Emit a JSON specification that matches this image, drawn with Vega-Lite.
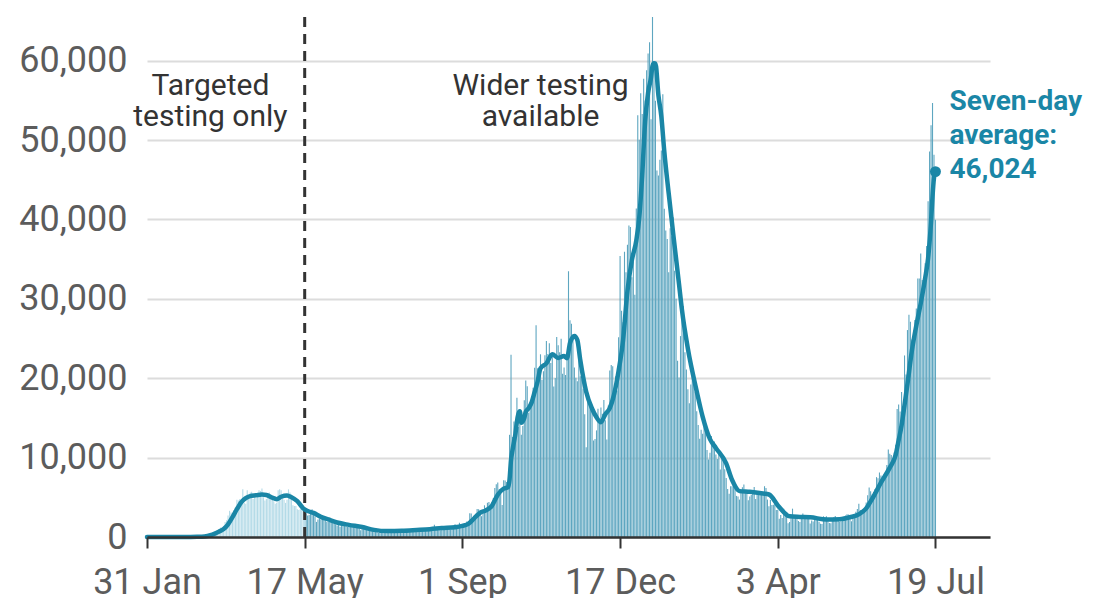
{
"$schema":"https://vega.github.io/schema/vega-lite/v6.json",
"width":843,"height":520,
"autosize":{"type":"none"},
"padding":{"left":147,"top":17,"right":116,"bottom":61},
"background":"white",
"config":{"view":{"stroke":null},"font":"Roboto"},
"datasets":{
"early":[
{"d":"2020-03-01","c":12},{"d":"2020-03-02","c":10},{"d":"2020-03-03","c":15},{"d":"2020-03-04","c":30},{"d":"2020-03-05","c":40},{"d":"2020-03-06","c":50},{"d":"2020-03-07","c":55},{"d":"2020-03-08","c":70},{"d":"2020-03-09","c":80},{"d":"2020-03-10","c":100},{"d":"2020-03-11","c":140},{"d":"2020-03-12","c":200},{"d":"2020-03-13","c":300},{"d":"2020-03-14","c":400},{"d":"2020-03-15","c":420},{"d":"2020-03-16","c":450},{"d":"2020-03-17","c":600},{"d":"2020-03-18","c":750},{"d":"2020-03-19","c":850},{"d":"2020-03-20","c":950},{"d":"2020-03-21","c":1200},{"d":"2020-03-22","c":1000},{"d":"2020-03-23","c":1300},{"d":"2020-03-24","c":1900},{"d":"2020-03-25","c":2100},{"d":"2020-03-26","c":2700},{"d":"2020-03-27","c":3300},{"d":"2020-03-28","c":3100},{"d":"2020-03-29","c":3000},{"d":"2020-03-30","c":3400},{"d":"2020-03-31","c":3800},
{"d":"2020-04-01","c":4700},{"d":"2020-04-02","c":4600},{"d":"2020-04-03","c":4800},{"d":"2020-04-04","c":4300},{"d":"2020-04-05","c":6000},{"d":"2020-04-06","c":4300},{"d":"2020-04-07","c":4200},{"d":"2020-04-08","c":5900},{"d":"2020-04-09","c":4800},{"d":"2020-04-10","c":5600},{"d":"2020-04-11","c":5700},{"d":"2020-04-12","c":4800},{"d":"2020-04-13","c":5300},{"d":"2020-04-14","c":4900},{"d":"2020-04-15","c":5000},{"d":"2020-04-16","c":5900},{"d":"2020-04-17","c":5800},{"d":"2020-04-18","c":6100},{"d":"2020-04-19","c":5000},{"d":"2020-04-20","c":4600},{"d":"2020-04-21","c":4800},{"d":"2020-04-22","c":4900},{"d":"2020-04-23","c":5600},{"d":"2020-04-24","c":5200},{"d":"2020-04-25","c":4700},{"d":"2020-04-26","c":4500},{"d":"2020-04-27","c":4200},{"d":"2020-04-28","c":4300},{"d":"2020-04-29","c":5900},{"d":"2020-04-30","c":6000},
{"d":"2020-05-01","c":5900},{"d":"2020-05-02","c":5100},{"d":"2020-05-03","c":4700},{"d":"2020-05-04","c":4300},{"d":"2020-05-05","c":4700},{"d":"2020-05-06","c":6000},{"d":"2020-05-07","c":5600},{"d":"2020-05-08","c":4700},{"d":"2020-05-09","c":4000},{"d":"2020-05-10","c":3900},{"d":"2020-05-11","c":3900},{"d":"2020-05-12","c":3500},{"d":"2020-05-13","c":3400},{"d":"2020-05-14","c":3500},{"d":"2020-05-15","c":3600},{"d":"2020-05-16","c":3500},{"d":"2020-05-17","c":3200}
],
"later":[
{"d":"2020-05-18","c":3000},{"d":"2020-05-19","c":2700},{"d":"2020-05-20","c":2800},{"d":"2020-05-21","c":2900},{"d":"2020-05-22","c":3500},{"d":"2020-05-23","c":3100},{"d":"2020-05-24","c":2600},{"d":"2020-05-25","c":1900},{"d":"2020-05-26","c":2200},{"d":"2020-05-27","c":2300},{"d":"2020-05-28","c":2200},{"d":"2020-05-29","c":2400},{"d":"2020-05-30","c":2600},{"d":"2020-05-31","c":2100},
{"d":"2020-06-01","c":1900},{"d":"2020-06-02","c":1950},{"d":"2020-06-03","c":2100},{"d":"2020-06-04","c":2000},{"d":"2020-06-05","c":1900},{"d":"2020-06-06","c":1800},{"d":"2020-06-07","c":1600},{"d":"2020-06-08","c":1450},{"d":"2020-06-09","c":1600},{"d":"2020-06-10","c":1300},{"d":"2020-06-11","c":1500},{"d":"2020-06-12","c":1750},{"d":"2020-06-13","c":1650},{"d":"2020-06-14","c":1700},{"d":"2020-06-15","c":1300},{"d":"2020-06-16","c":1500},{"d":"2020-06-17","c":1350},{"d":"2020-06-18","c":1450},{"d":"2020-06-19","c":1550},{"d":"2020-06-20","c":1500},{"d":"2020-06-21","c":1400},{"d":"2020-06-22","c":1150},{"d":"2020-06-23","c":1050},{"d":"2020-06-24","c":850},{"d":"2020-06-25","c":1300},{"d":"2020-06-26","c":1500},{"d":"2020-06-27","c":1050},{"d":"2020-06-28","c":1050},{"d":"2020-06-29","c":950},{"d":"2020-06-30","c":850},
{"d":"2020-07-01","c":950},{"d":"2020-07-02","c":750},{"d":"2020-07-03","c":700},{"d":"2020-07-04","c":780},{"d":"2020-07-05","c":680},{"d":"2020-07-06","c":500},{"d":"2020-07-07","c":720},{"d":"2020-07-08","c":780},{"d":"2020-07-09","c":660},{"d":"2020-07-10","c":950},{"d":"2020-07-11","c":800},{"d":"2020-07-12","c":800},{"d":"2020-07-13","c":680},{"d":"2020-07-14","c":740},{"d":"2020-07-15","c":690},{"d":"2020-07-16","c":790},{"d":"2020-07-17","c":830},{"d":"2020-07-18","c":950},{"d":"2020-07-19","c":860},{"d":"2020-07-20","c":720},{"d":"2020-07-21","c":590},{"d":"2020-07-22","c":700},{"d":"2020-07-23","c":900},{"d":"2020-07-24","c":900},{"d":"2020-07-25","c":880},{"d":"2020-07-26","c":880},{"d":"2020-07-27","c":820},{"d":"2020-07-28","c":720},{"d":"2020-07-29","c":900},{"d":"2020-07-30","c":980},{"d":"2020-07-31","c":1010},
{"d":"2020-08-01","c":880},{"d":"2020-08-02","c":880},{"d":"2020-08-03","c":1060},{"d":"2020-08-04","c":800},{"d":"2020-08-05","c":1020},{"d":"2020-08-06","c":1080},{"d":"2020-08-07","c":1000},{"d":"2020-08-08","c":890},{"d":"2020-08-09","c":1180},{"d":"2020-08-10","c":950},{"d":"2020-08-11","c":1270},{"d":"2020-08-12","c":1130},{"d":"2020-08-13","c":1540},{"d":"2020-08-14","c":1130},{"d":"2020-08-15","c":1190},{"d":"2020-08-16","c":850},{"d":"2020-08-17","c":840},{"d":"2020-08-18","c":1200},{"d":"2020-08-19","c":930},{"d":"2020-08-20","c":1280},{"d":"2020-08-21","c":1140},{"d":"2020-08-22","c":1370},{"d":"2020-08-23","c":1150},{"d":"2020-08-24","c":960},{"d":"2020-08-25","c":1270},{"d":"2020-08-26","c":1150},{"d":"2020-08-27","c":1600},{"d":"2020-08-28","c":1360},{"d":"2020-08-29","c":1200},{"d":"2020-08-30","c":1780},{"d":"2020-08-31","c":1470},
{"d":"2020-09-01","c":1295},{"d":"2020-09-02","c":1508},{"d":"2020-09-03","c":1735},{"d":"2020-09-04","c":1940},{"d":"2020-09-05","c":1813},{"d":"2020-09-06","c":2988},{"d":"2020-09-07","c":2948},{"d":"2020-09-08","c":2460},{"d":"2020-09-09","c":2659},{"d":"2020-09-10","c":2919},{"d":"2020-09-11","c":3539},{"d":"2020-09-12","c":3497},{"d":"2020-09-13","c":3330},{"d":"2020-09-14","c":2621},{"d":"2020-09-15","c":3105},{"d":"2020-09-16","c":3991},{"d":"2020-09-17","c":3395},{"d":"2020-09-18","c":4322},{"d":"2020-09-19","c":4422},{"d":"2020-09-20","c":3899},{"d":"2020-09-21","c":4368},{"d":"2020-09-22","c":4926},{"d":"2020-09-23","c":6178},{"d":"2020-09-24","c":6634},{"d":"2020-09-25","c":6874},{"d":"2020-09-26","c":6042},{"d":"2020-09-27","c":5693},{"d":"2020-09-28","c":4044},{"d":"2020-09-29","c":7143},{"d":"2020-09-30","c":7108},
{"d":"2020-10-01","c":6914},{"d":"2020-10-02","c":6968},{"d":"2020-10-03","c":12872},{"d":"2020-10-04","c":22961},{"d":"2020-10-05","c":12594},{"d":"2020-10-06","c":14542},{"d":"2020-10-07","c":14162},{"d":"2020-10-08","c":17540},{"d":"2020-10-09","c":13864},{"d":"2020-10-10","c":15166},{"d":"2020-10-11","c":12872},{"d":"2020-10-12","c":13972},{"d":"2020-10-13","c":17234},{"d":"2020-10-14","c":19724},{"d":"2020-10-15","c":18980},{"d":"2020-10-16","c":15650},{"d":"2020-10-17","c":16171},{"d":"2020-10-18","c":16982},{"d":"2020-10-19","c":18804},{"d":"2020-10-20","c":21331},{"d":"2020-10-21","c":26688},{"d":"2020-10-22","c":21242},{"d":"2020-10-23","c":20530},{"d":"2020-10-24","c":23012},{"d":"2020-10-25","c":19790},{"d":"2020-10-26","c":20890},{"d":"2020-10-27","c":22885},{"d":"2020-10-28","c":24701},{"d":"2020-10-29","c":23065},{"d":"2020-10-30","c":24405},{"d":"2020-10-31","c":21915},
{"d":"2020-11-01","c":23254},{"d":"2020-11-02","c":18950},{"d":"2020-11-03","c":20018},{"d":"2020-11-04","c":25177},{"d":"2020-11-05","c":24141},{"d":"2020-11-06","c":23287},{"d":"2020-11-07","c":24957},{"d":"2020-11-08","c":20572},{"d":"2020-11-09","c":21350},{"d":"2020-11-10","c":20412},{"d":"2020-11-11","c":22950},{"d":"2020-11-12","c":33470},{"d":"2020-11-13","c":27301},{"d":"2020-11-14","c":26860},{"d":"2020-11-15","c":24962},{"d":"2020-11-16","c":21363},{"d":"2020-11-17","c":20051},{"d":"2020-11-18","c":19609},{"d":"2020-11-19","c":22915},{"d":"2020-11-20","c":20252},{"d":"2020-11-21","c":19875},{"d":"2020-11-22","c":18662},{"d":"2020-11-23","c":15450},{"d":"2020-11-24","c":11299},{"d":"2020-11-25","c":18213},{"d":"2020-11-26","c":17555},{"d":"2020-11-27","c":16022},{"d":"2020-11-28","c":15871},{"d":"2020-11-29","c":12155},{"d":"2020-11-30","c":12330},
{"d":"2020-12-01","c":13430},{"d":"2020-12-02","c":16170},{"d":"2020-12-03","c":14879},{"d":"2020-12-04","c":16298},{"d":"2020-12-05","c":15539},{"d":"2020-12-06","c":17272},{"d":"2020-12-07","c":14718},{"d":"2020-12-08","c":12282},{"d":"2020-12-09","c":16578},{"d":"2020-12-10","c":20964},{"d":"2020-12-11","c":21672},{"d":"2020-12-12","c":21502},{"d":"2020-12-13","c":18447},{"d":"2020-12-14","c":20263},{"d":"2020-12-15","c":18450},{"d":"2020-12-16","c":25161},{"d":"2020-12-17","c":35383},{"d":"2020-12-18","c":28507},{"d":"2020-12-19","c":27052},{"d":"2020-12-20","c":35928},{"d":"2020-12-21","c":33364},{"d":"2020-12-22","c":36804},{"d":"2020-12-23","c":39237},{"d":"2020-12-24","c":39036},{"d":"2020-12-25","c":32725},{"d":"2020-12-26","c":34693},{"d":"2020-12-27","c":30501},{"d":"2020-12-28","c":41385},{"d":"2020-12-29","c":53135},{"d":"2020-12-30","c":50023},{"d":"2020-12-31","c":55892},
{"d":"2021-01-01","c":53285},{"d":"2021-01-02","c":57725},{"d":"2021-01-03","c":54990},{"d":"2021-01-04","c":58784},{"d":"2021-01-05","c":60916},{"d":"2021-01-06","c":62322},{"d":"2021-01-07","c":52618},{"d":"2021-01-08","c":68053},{"d":"2021-01-09","c":59937},{"d":"2021-01-10","c":54940},{"d":"2021-01-11","c":46169},{"d":"2021-01-12","c":45533},{"d":"2021-01-13","c":47525},{"d":"2021-01-14","c":48682},{"d":"2021-01-15","c":55761},{"d":"2021-01-16","c":41346},{"d":"2021-01-17","c":38598},{"d":"2021-01-18","c":37535},{"d":"2021-01-19","c":33355},{"d":"2021-01-20","c":38905},{"d":"2021-01-21","c":37892},{"d":"2021-01-22","c":40261},{"d":"2021-01-23","c":33552},{"d":"2021-01-24","c":30004},{"d":"2021-01-25","c":22195},{"d":"2021-01-26","c":20089},{"d":"2021-01-27","c":25308},{"d":"2021-01-28","c":28680},{"d":"2021-01-29","c":29079},{"d":"2021-01-30","c":23275},{"d":"2021-01-31","c":21088},
{"d":"2021-02-01","c":18607},{"d":"2021-02-02","c":16840},{"d":"2021-02-03","c":19202},{"d":"2021-02-04","c":20634},{"d":"2021-02-05","c":19114},{"d":"2021-02-06","c":18262},{"d":"2021-02-07","c":15845},{"d":"2021-02-08","c":14104},{"d":"2021-02-09","c":12364},{"d":"2021-02-10","c":13494},{"d":"2021-02-11","c":13013},{"d":"2021-02-12","c":15144},{"d":"2021-02-13","c":13308},{"d":"2021-02-14","c":10972},{"d":"2021-02-15","c":9765},{"d":"2021-02-16","c":10625},{"d":"2021-02-17","c":12718},{"d":"2021-02-18","c":12057},{"d":"2021-02-19","c":12027},{"d":"2021-02-20","c":10406},{"d":"2021-02-21","c":9834},{"d":"2021-02-22","c":10641},{"d":"2021-02-23","c":8489},{"d":"2021-02-24","c":9938},{"d":"2021-02-25","c":9985},{"d":"2021-02-26","c":8523},{"d":"2021-02-27","c":7434},{"d":"2021-02-28","c":6035},
{"d":"2021-03-01","c":5455},{"d":"2021-03-02","c":6391},{"d":"2021-03-03","c":6385},{"d":"2021-03-04","c":6573},{"d":"2021-03-05","c":6040},{"d":"2021-03-06","c":5177},{"d":"2021-03-07","c":5088},{"d":"2021-03-08","c":4712},{"d":"2021-03-09","c":5766},{"d":"2021-03-10","c":6278},{"d":"2021-03-11","c":6609},{"d":"2021-03-12","c":5926},{"d":"2021-03-13","c":5534},{"d":"2021-03-14","c":4618},{"d":"2021-03-15","c":5089},{"d":"2021-03-16","c":5294},{"d":"2021-03-17","c":5758},{"d":"2021-03-18","c":6303},{"d":"2021-03-19","c":4802},{"d":"2021-03-20","c":5587},{"d":"2021-03-21","c":5312},{"d":"2021-03-22","c":5342},{"d":"2021-03-23","c":5379},{"d":"2021-03-24","c":5605},{"d":"2021-03-25","c":6397},{"d":"2021-03-26","c":6187},{"d":"2021-03-27","c":4715},{"d":"2021-03-28","c":3862},{"d":"2021-03-29","c":4654},{"d":"2021-03-30","c":4040},{"d":"2021-03-31","c":4052},
{"d":"2021-04-01","c":4479},{"d":"2021-04-02","c":3402},{"d":"2021-04-03","c":3423},{"d":"2021-04-04","c":2297},{"d":"2021-04-05","c":2762},{"d":"2021-04-06","c":2379},{"d":"2021-04-07","c":3567},{"d":"2021-04-08","c":2763},{"d":"2021-04-09","c":3150},{"d":"2021-04-10","c":1730},{"d":"2021-04-11","c":1882},{"d":"2021-04-12","c":2472},{"d":"2021-04-13","c":3568},{"d":"2021-04-14","c":2491},{"d":"2021-04-15","c":2672},{"d":"2021-04-16","c":2596},{"d":"2021-04-17","c":2027},{"d":"2021-04-18","c":1882},{"d":"2021-04-19","c":2524},{"d":"2021-04-20","c":2963},{"d":"2021-04-21","c":2396},{"d":"2021-04-22","c":2729},{"d":"2021-04-23","c":2678},{"d":"2021-04-24","c":2381},{"d":"2021-04-25","c":1712},{"d":"2021-04-26","c":2064},{"d":"2021-04-27","c":1946},{"d":"2021-04-28","c":2166},{"d":"2021-04-29","c":2381},{"d":"2021-04-30","c":2445},
{"d":"2021-05-01","c":1907},{"d":"2021-05-02","c":1671},{"d":"2021-05-03","c":1649},{"d":"2021-05-04","c":2613},{"d":"2021-05-05","c":2490},{"d":"2021-05-06","c":2613},{"d":"2021-05-07","c":2047},{"d":"2021-05-08","c":1770},{"d":"2021-05-09","c":1742},{"d":"2021-05-10","c":2357},{"d":"2021-05-11","c":2474},{"d":"2021-05-12","c":2657},{"d":"2021-05-13","c":2284},{"d":"2021-05-14","c":2193},{"d":"2021-05-15","c":1926},{"d":"2021-05-16","c":1979},{"d":"2021-05-17","c":2412},{"d":"2021-05-18","c":2474},{"d":"2021-05-19","c":2696},{"d":"2021-05-20","c":2874},{"d":"2021-05-21","c":2829},{"d":"2021-05-22","c":2235},{"d":"2021-05-23","c":1979},{"d":"2021-05-24","c":2439},{"d":"2021-05-25","c":2493},{"d":"2021-05-26","c":3180},{"d":"2021-05-27","c":3542},{"d":"2021-05-28","c":4182},{"d":"2021-05-29","c":3398},{"d":"2021-05-30","c":3240},{"d":"2021-05-31","c":3383},
{"d":"2021-06-01","c":3165},{"d":"2021-06-02","c":4330},{"d":"2021-06-03","c":5274},{"d":"2021-06-04","c":6238},{"d":"2021-06-05","c":5765},{"d":"2021-06-06","c":5341},{"d":"2021-06-07","c":5683},{"d":"2021-06-08","c":6048},{"d":"2021-06-09","c":7540},{"d":"2021-06-10","c":7393},{"d":"2021-06-11","c":8125},{"d":"2021-06-12","c":7738},{"d":"2021-06-13","c":7490},{"d":"2021-06-14","c":7742},{"d":"2021-06-15","c":7673},{"d":"2021-06-16","c":9055},{"d":"2021-06-17","c":11007},{"d":"2021-06-18","c":10476},{"d":"2021-06-19","c":10321},{"d":"2021-06-20","c":9284},{"d":"2021-06-21","c":10633},{"d":"2021-06-22","c":11625},{"d":"2021-06-23","c":16135},{"d":"2021-06-24","c":16703},{"d":"2021-06-25","c":15810},{"d":"2021-06-26","c":18270},{"d":"2021-06-27","c":14876},{"d":"2021-06-28","c":22868},{"d":"2021-06-29","c":20479},{"d":"2021-06-30","c":26068},
{"d":"2021-07-01","c":27989},{"d":"2021-07-02","c":27125},{"d":"2021-07-03","c":24885},{"d":"2021-07-04","c":24248},{"d":"2021-07-05","c":27334},{"d":"2021-07-06","c":28773},{"d":"2021-07-07","c":32548},{"d":"2021-07-08","c":32551},{"d":"2021-07-09","c":35707},{"d":"2021-07-10","c":32367},{"d":"2021-07-11","c":31772},{"d":"2021-07-12","c":34471},{"d":"2021-07-13","c":36660},{"d":"2021-07-14","c":42302},{"d":"2021-07-15","c":48553},{"d":"2021-07-16","c":51870},{"d":"2021-07-17","c":54674},{"d":"2021-07-18","c":48161},{"d":"2021-07-19","c":39950}
],
"avg":[
{"d":"2020-01-31","a":0},{"d":"2020-02-25","a":5},{"d":"2020-03-05","a":30},{"d":"2020-03-10","a":75},{"d":"2020-03-14","a":220},{"d":"2020-03-17","a":430},{"d":"2020-03-20","a":700},{"d":"2020-03-23","a":1000},{"d":"2020-03-26","a":1600},{"d":"2020-03-29","a":2500},{"d":"2020-04-01","a":3500},{"d":"2020-04-04","a":4400},{"d":"2020-04-07","a":4900},{"d":"2020-04-10","a":5150},{"d":"2020-04-14","a":5250},{"d":"2020-04-18","a":5350},{"d":"2020-04-21","a":5300},{"d":"2020-04-25","a":4950},{"d":"2020-04-28","a":4770},{"d":"2020-05-01","a":5070},{"d":"2020-05-05","a":5230},{"d":"2020-05-08","a":5010},{"d":"2020-05-12","a":4510},{"d":"2020-05-16","a":3610},{"d":"2020-05-19","a":3270},{"d":"2020-05-23","a":3030},{"d":"2020-05-28","a":2540},{"d":"2020-06-02","a":2210},{"d":"2020-06-08","a":1830},{"d":"2020-06-16","a":1530},{"d":"2020-06-25","a":1260},{"d":"2020-07-03","a":900},{"d":"2020-07-12","a":745},{"d":"2020-07-22","a":780},{"d":"2020-08-01","a":885},{"d":"2020-08-10","a":990},{"d":"2020-08-18","a":1125},{"d":"2020-08-27","a":1235},{"d":"2020-09-01","a":1410},{"d":"2020-09-05","a":1650},{"d":"2020-09-09","a":2360},{"d":"2020-09-13","a":3050},{"d":"2020-09-17","a":3355},{"d":"2020-09-21","a":3930},{"d":"2020-09-25","a":5330},{"d":"2020-09-29","a":6090},{"d":"2020-10-02","a":6270},{"d":"2020-10-03","a":7250},{"d":"2020-10-04","a":9715},{"d":"2020-10-05","a":10935},{"d":"2020-10-06","a":11995},{"d":"2020-10-07","a":13000},{"d":"2020-10-08","a":14520},{"d":"2020-10-09","a":15505},{"d":"2020-10-10","a":15835},{"d":"2020-10-11","a":14390},{"d":"2020-10-12","a":14590},{"d":"2020-10-13","a":14975},{"d":"2020-10-14","a":15765},{"d":"2020-10-16","a":16230},{"d":"2020-10-18","a":16960},{"d":"2020-10-20","a":18235},{"d":"2020-10-22","a":19555},{"d":"2020-10-24","a":21225},{"d":"2020-10-28","a":21865},{"d":"2020-11-01","a":23015},{"d":"2020-11-05","a":22550},{"d":"2020-11-09","a":22785},{"d":"2020-11-11","a":22525},{"d":"2020-11-13","a":24430},{"d":"2020-11-16","a":25330},{"d":"2020-11-18","a":24800},{"d":"2020-11-20","a":22285},{"d":"2020-11-24","a":18295},{"d":"2020-11-28","a":16155},{"d":"2020-12-01","a":15080},{"d":"2020-12-04","a":14450},{"d":"2020-12-07","a":15470},{"d":"2020-12-10","a":16235},{"d":"2020-12-13","a":18025},{"d":"2020-12-16","a":20925},{"d":"2020-12-19","a":24750},{"d":"2020-12-22","a":31000},{"d":"2020-12-25","a":34880},{"d":"2020-12-28","a":37340},{"d":"2020-12-30","a":40215},{"d":"2021-01-01","a":45560},{"d":"2021-01-03","a":52350},{"d":"2021-01-05","a":55945},{"d":"2021-01-07","a":57900},{"d":"2021-01-08","a":59345},{"d":"2021-01-09","a":59660},{"d":"2021-01-10","a":59655},{"d":"2021-01-12","a":55655},{"d":"2021-01-14","a":52975},{"d":"2021-01-16","a":48565},{"d":"2021-01-19","a":43255},{"d":"2021-01-22","a":38270},{"d":"2021-01-26","a":31845},{"d":"2021-01-28","a":28585},{"d":"2021-02-01","a":23730},{"d":"2021-02-07","a":18360},{"d":"2021-02-11","a":15170},{"d":"2021-02-16","a":12330},{"d":"2021-02-20","a":11225},{"d":"2021-02-27","a":9265},{"d":"2021-03-03","a":7175},{"d":"2021-03-08","a":5780},{"d":"2021-03-15","a":5690},{"d":"2021-03-24","a":5475},{"d":"2021-03-28","a":5355},{"d":"2021-04-04","a":3765},{"d":"2021-04-11","a":2605},{"d":"2021-04-18","a":2530},{"d":"2021-04-25","a":2485},{"d":"2021-05-06","a":2200},{"d":"2021-05-15","a":2240},{"d":"2021-05-22","a":2490},{"d":"2021-05-28","a":2855},{"d":"2021-06-02","a":3605},{"d":"2021-06-06","a":4785},{"d":"2021-06-12","a":6840},{"d":"2021-06-18","a":8740},{"d":"2021-06-22","a":10345},{"d":"2021-06-24","a":12170},{"d":"2021-06-26","a":14065},{"d":"2021-06-28","a":16610},{"d":"2021-06-30","a":19295},{"d":"2021-07-03","a":23470},{"d":"2021-07-06","a":26630},{"d":"2021-07-09","a":29435},{"d":"2021-07-12","a":32600},{"d":"2021-07-14","a":35120},{"d":"2021-07-16","a":39715},{"d":"2021-07-17","a":42900},{"d":"2021-07-18","a":45240},{"d":"2021-07-19","a":46024}
],
"events":[{"d":"2020-05-17"}],
"latest":[{"d":"2021-07-19","a":46024}],
"notes":[
{"d":"2020-03-14","v":55700,"t":["Targeted","testing only"]},
{"d":"2020-10-24","v":55700,"t":["Wider testing","available"]}
]
},
"layer":[
{"data":{"name":"early"},
 "mark":{"type":"bar","width":1.1,"color":"#b3dae7","clip":true},
 "encoding":{
  "x":{"field":"d","type":"temporal","title":null,
   "scale":{"type":"utc","padding":0,"domain":[{"year":2020,"month":1,"date":31,"utc":true},{"year":2021,"month":8,"date":25,"utc":true}]},
   "axis":{"values":[{"year":2020,"month":1,"date":31,"utc":true},{"year":2020,"month":5,"date":17,"utc":true},{"year":2020,"month":9,"date":1,"utc":true},{"year":2020,"month":12,"date":17,"utc":true},{"year":2021,"month":4,"date":3,"utc":true},{"year":2021,"month":7,"date":19,"utc":true}],
    "labelExpr":"utcFormat(datum.value, '%-d %b')","labelFont":"Roboto","labelFontSize":36,"labelColor":"#5c5c5c","labelPadding":17,
    "domainColor":"#333333","domainWidth":2.5,"tickColor":"#333333","tickWidth":2,"tickSize":11,"grid":false,"zindex":1,"labelFlush":false,"labelOverlap":false}},
  "y":{"field":"c","type":"quantitative","title":null,
   "scale":{"domain":[0,65500],"nice":false,"zero":true},
   "axis":{"values":[0,10000,20000,30000,40000,50000,60000],"labelExpr":"format(datum.value, ',')","labelFont":"Roboto","labelFontSize":36,"labelColor":"#5c5c5c","labelPadding":20,
    "ticks":false,"domain":false,"grid":true,"gridColor":"#dcdcdc","gridWidth":2}}
 }},
{"data":{"name":"later"},
 "mark":{"type":"bar","width":1.1,"color":"#5ea6c0","clip":true},
 "encoding":{
  "x":{"field":"d","type":"temporal","title":null},
  "y":{"field":"c","type":"quantitative","title":null}
 }},
{"data":{"name":"events"},
 "mark":{"type":"rule","color":"#333333","strokeWidth":3,"strokeDash":[10,7]},
 "encoding":{"x":{"field":"d","type":"temporal","title":null}}},
{"data":{"name":"avg"},
 "mark":{"type":"line","color":"#1a86a6","strokeWidth":4.5,"interpolate":"monotone","strokeJoin":"round","strokeCap":"round"},
 "encoding":{
  "x":{"field":"d","type":"temporal","title":null},
  "y":{"field":"a","type":"quantitative","title":null}
 }},
{"data":{"name":"latest"},
 "mark":{"type":"point","filled":true,"opacity":1,"color":"#1a86a6","size":120},
 "encoding":{
  "x":{"field":"d","type":"temporal","title":null},
  "y":{"field":"a","type":"quantitative","title":null}
 }},
{"data":{"name":"latest"},
 "mark":{"type":"text","align":"left","baseline":"alphabetic","dx":14,"dy":-62,"lineHeight":34,"font":"Roboto","fontSize":28,"fontWeight":"bold","color":"#1a86a6",
  "text":["Seven-day","average:","46,024"]},
 "encoding":{
  "x":{"field":"d","type":"temporal","title":null},
  "y":{"field":"a","type":"quantitative","title":null}
 }},
{"data":{"name":"notes"},
 "mark":{"type":"text","align":"center","baseline":"alphabetic","lineHeight":31,"font":"Roboto","fontSize":30,"color":"#333333"},
 "encoding":{
  "x":{"field":"d","type":"temporal","title":null},
  "y":{"field":"v","type":"quantitative","title":null},
  "text":{"field":"t"}
 }}
]
}
